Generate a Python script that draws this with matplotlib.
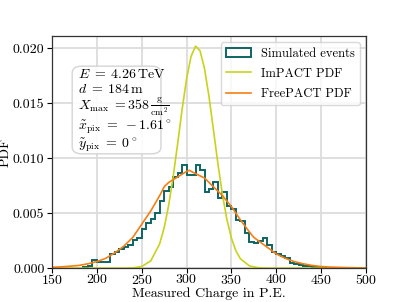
import numpy as np
import matplotlib
matplotlib.use("Agg")
import matplotlib.pyplot as plt
from matplotlib.patches import Patch, FancyBboxPatch
from matplotlib.lines import Line2D

plt.rcParams['font.family'] = 'serif'
plt.rcParams['font.serif'] = ['cmr10', 'DejaVu Serif']
plt.rcParams['mathtext.fontset'] = 'cm'
plt.rcParams['axes.unicode_minus'] = False
plt.rcParams['axes.formatter.use_mathtext'] = True
plt.rcParams['font.size'] = 10

# simulated events histogram (bin width 5 P.E.)
bin_edges = np.arange(185, 460, 5)
sim_counts = [0.0001, 0.0002, 0.0007, 0.0006, 0.0006, 0.0006, 0.0013, 0.0015,
              0.0017, 0.0019, 0.0021, 0.0026, 0.0027, 0.0036, 0.0041, 0.0045,
              0.0050, 0.0061, 0.0070, 0.0074, 0.0083, 0.0087, 0.0094, 0.0085,
              0.0085, 0.0094, 0.0089, 0.0069, 0.0072, 0.0078, 0.0064, 0.0069,
              0.0057, 0.0054, 0.0044, 0.0043, 0.0032, 0.0024, 0.0023, 0.0025,
              0.0027, 0.0021, 0.0015, 0.0013, 0.0011, 0.0009, 0.0005, 0.0004,
              0.0003, 0.0002, 0.0002, 0.0001, 0.0001, 0.0001]

# ImPACT PDF
impact_x = [150, 230, 240, 250, 260, 270, 275, 280, 285, 290, 295, 300, 305, 310,
            315, 320, 325, 330, 335, 340, 345, 350, 355, 360, 370, 380, 390, 500]
impact_y = [0.0, 0.000003, 0.000027, 0.00015, 0.00066, 0.00222, 0.00368, 0.00571,
            0.0083, 0.0113, 0.01443, 0.01723, 0.01927, 0.0202, 0.01978, 0.01816,
            0.01561, 0.01256, 0.00947, 0.00669, 0.00442, 0.00273, 0.00158, 0.00086,
            0.00021, 0.00004, 0.0, 0.0]

# FreePACT PDF
free_x = [150, 160, 170, 180, 190, 200, 210, 220, 230, 240, 250, 260, 270, 275,
          280, 290, 300, 303, 310, 320, 330, 340, 350, 360, 370, 375, 380, 390,
          400, 410, 420, 430, 440, 450, 460, 480, 500]
free_y = [0.00008, 0.00012, 0.00018, 0.00025, 0.0004, 0.0006, 0.0009, 0.0014,
          0.0020, 0.0028, 0.0040, 0.0052, 0.0066, 0.0074, 0.0078, 0.0083, 0.0088,
          0.0089, 0.0086, 0.0082, 0.0074, 0.0066, 0.0056, 0.0044, 0.0033, 0.0028,
          0.0025, 0.0019, 0.0013, 0.0009, 0.0006, 0.0004, 0.00025, 0.00015,
          0.0001, 0.00005, 0.00002]

info_lines = [r"$E\;=\;4.26\,\mathrm{TeV}$",
              r"$d\;=\;184\,\mathrm{m}$",
              r"$X_\mathrm{max}\;=$358$\,\frac{\mathrm{g}}{\mathrm{cm}^2}$",
              r"$\tilde{x}_\mathrm{pix}\;=\;-1.61^\circ$",
              r"$\tilde{y}_\mathrm{pix}\;=\;0^\circ$"]
info_ypos = [0.833, 0.770, 0.697, 0.611, 0.530]

hist_color = '#0d6464'
impact_color = '#c8d31a'
free_color = '#f57f12'

fig = plt.figure(figsize=(4.07, 3.02), dpi=100)
ax = fig.add_axes([0.128, 0.112, 0.771, 0.768])

ax.stairs(sim_counts, bin_edges, color=hist_color, linewidth=1.4)
ax.plot(impact_x, impact_y, color=impact_color, linewidth=1.2)
ax.plot(free_x, free_y, color=free_color, linewidth=1.2)

ax.set_xlim(150, 500)
ax.set_ylim(0, 0.0211)
ax.set_yticks([0.0, 0.005, 0.010, 0.015, 0.020])
ax.set_yticklabels(['0.000', '0.005', '0.010', '0.015', '0.020'])
ax.tick_params(axis='y', length=3.5, pad=2)
ax.tick_params(axis='x', length=3.5, pad=0)
ax.grid(True, color='#dcdcdc', linewidth=1.3)
ax.set_axisbelow(True)
for s in ax.spines.values():
    s.set_color('#333333')
    s.set_linewidth(0.9)

ax.set_xlabel('Measured Charge in P.E.')
ax.xaxis.set_label_coords(0.5, -0.085)
ax.set_ylabel('PDF', labelpad=1)

# info box
box = FancyBboxPatch((0.064, 0.493), 0.283, 0.378, boxstyle='round,pad=0,rounding_size=0.03',
                     transform=ax.transAxes, facecolor='white', edgecolor='#d0d0d0',
                     linewidth=1.0, alpha=0.9, zorder=4)
ax.add_patch(box)
for line, yp in zip(info_lines, info_ypos):
    ax.text(0.083, yp, line, transform=ax.transAxes,
            va='center', ha='left', fontsize=10, zorder=5)

handles = [Patch(facecolor='none', edgecolor=hist_color, linewidth=1.4),
           Line2D([], [], color=impact_color, linewidth=1.2),
           Line2D([], [], color=free_color, linewidth=1.2)]
labels = ['Simulated events', 'ImPACT PDF', 'FreePACT PDF']
ax.legend(handles, labels, loc='upper right', fontsize=9, framealpha=0.8,
          edgecolor='#d0d0d0', handlelength=2.0, labelspacing=0.65, borderaxespad=0.5)

fig.savefig('out.png', dpi=100)
